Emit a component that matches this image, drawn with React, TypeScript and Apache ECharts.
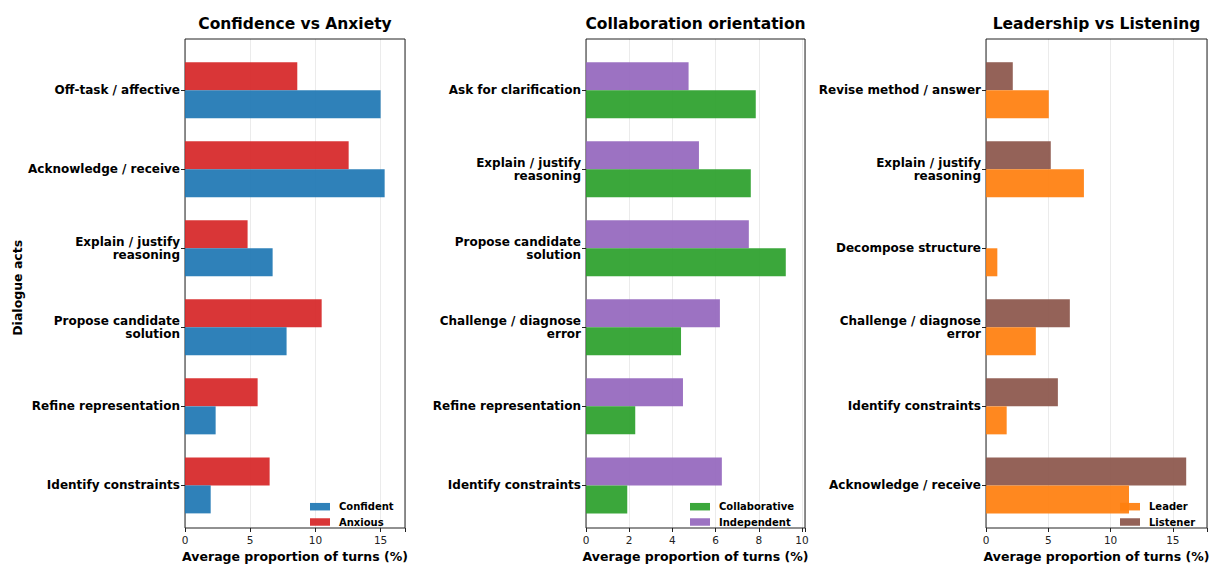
import React, { useEffect, useRef } from "react";
import * as echarts from "echarts";

const titles = ["Confidence vs Anxiety", "Collaboration orientation", "Leadership vs Listening"];

const categories1 = [
  "Off-task / affective",
  "Acknowledge / receive",
  "Explain / justify\nreasoning",
  "Propose candidate\nsolution",
  "Refine representation",
  "Identify constraints",
];
const confident = [15.0, 15.31, 6.72, 7.79, 2.35, 1.97];
const anxious = [8.61, 12.55, 4.8, 10.48, 5.57, 6.49];

const categories2 = [
  "Ask for clarification",
  "Explain / justify\nreasoning",
  "Propose candidate\nsolution",
  "Challenge / diagnose\nerror",
  "Refine representation",
  "Identify constraints",
];
const collaborative = [7.86, 7.63, 9.25, 4.4, 2.28, 1.91];
const independent = [4.75, 5.23, 7.54, 6.2, 4.49, 6.29];

const categories3 = [
  "Revise method / answer",
  "Explain / justify\nreasoning",
  "Decompose structure",
  "Challenge / diagnose\nerror",
  "Identify constraints",
  "Acknowledge / receive",
];
const leader = [5.04, 7.86, 0.91, 4.0, 1.66, 11.48];
const listener = [2.15, 5.2, 0, 6.73, 5.77, 16.07];

const xMax = [16.87, 10.14, 17.74];
const xInterval = [5, 2, 5];
const xAxisTitle = "Average proportion of turns (%)";
const yAxisTitle = "Dialogue acts";

const FONT = "DejaVu Sans";
const W = 1213;
const H = 568;

export default function App() {
  const ref = useRef<HTMLDivElement>(null);
  useEffect(() => {
    if (!ref.current) return;
    const chart = echarts.init(ref.current, null, { renderer: "svg" });

    const panels = [
      { cats: categories1, s: [
        { name: "Confident", data: confident, color: "#1f77b4" },
        { name: "Anxious", data: anxious, color: "#d62728" },
      ] },
      { cats: categories2, s: [
        { name: "Collaborative", data: collaborative, color: "#2ca02c" },
        { name: "Independent", data: independent, color: "#9467bd" },
      ] },
      { cats: categories3, s: [
        { name: "Leader", data: leader, color: "#ff7f0e" },
        { name: "Listener", data: listener, color: "#8c564b" },
      ] },
    ];

    const lefts = [185, 586, 986];
    const rights = [405, 805, 1207];
    const frameTop = 39;
    const frameBottom = 537;
    const barsTop = 50.7;
    const barsBottom = 524.9;
    const legendLeft = [310, 690, 1120];

    const grid: any[] = [];
    const xAxis: any[] = [];
    const yAxis: any[] = [];
    const series: any[] = [];
    const title: any[] = [];
    const legend: any[] = [];

    panels.forEach((p, i) => {
      const L = lefts[i];
      const R = W - rights[i];
      grid.push({
        left: L, right: R, top: frameTop, bottom: H - frameBottom,
        show: true, borderColor: "#222", borderWidth: 1, backgroundColor: "transparent",
        containLabel: false,
      });
      grid.push({
        left: L, right: R, top: barsTop, bottom: H - barsBottom,
        containLabel: false,
      });
      const iv = xInterval[i];
      xAxis.push({
        type: "value", gridIndex: 2 * i, min: 0, max: xMax[i], interval: iv,
        axisLine: { show: false },
        axisTick: { show: true, length: 4, lineStyle: { color: "#222" } },
        axisLabel: {
          fontFamily: FONT, fontSize: 10.5, color: "#222", margin: 6,
          formatter: (v: number) => (Math.abs(v / iv - Math.round(v / iv)) < 1e-6 ? String(v) : ""),
        },
        splitLine: { show: true, lineStyle: { color: "rgba(0,0,0,0.08)", width: 1 } },
        name: xAxisTitle, nameLocation: "middle", nameGap: 22,
        nameTextStyle: { fontFamily: FONT, fontSize: 12.5, fontWeight: "bold", color: "#000" },
      });
      xAxis.push({
        type: "value", gridIndex: 2 * i + 1, min: 0, max: xMax[i], show: false,
      });
      yAxis.push({ type: "value", gridIndex: 2 * i, show: false });
      yAxis.push({
        type: "category", gridIndex: 2 * i + 1, data: p.cats, inverse: true,
        axisLine: { show: false },
        axisTick: { show: true, length: 4, alignWithLabel: true, lineStyle: { color: "#222" } },
        axisLabel: {
          fontFamily: FONT, fontSize: 12, fontWeight: "bold", color: "#000",
          margin: 5, lineHeight: 13.5, align: "right", padding: [3, 0, 0, 0],
        },
        ...(i === 0
          ? {
              name: yAxisTitle, nameLocation: "middle", nameGap: 159, nameRotate: 90,
              nameTextStyle: { fontFamily: FONT, fontSize: 12.5, fontWeight: "bold", color: "#000" },
            }
          : {}),
      });
      [p.s[1], p.s[0]].forEach((s) => {
        series.push({
          type: "bar", name: s.name, data: s.data,
          xAxisIndex: 2 * i + 1, yAxisIndex: 2 * i + 1,
          barWidth: 28, barGap: "0%",
          itemStyle: { color: s.color, opacity: 0.93 },
        });
      });
      title.push({
        text: titles[i], left: (lefts[i] + rights[i]) / 2, top: 16, textAlign: "center", padding: 0,
        textStyle: { fontFamily: FONT, fontSize: 15.5, fontWeight: "bold", color: "#000" },
      });
      legend.push({
        data: [p.s[0].name, p.s[1].name], orient: "vertical",
        left: legendLeft[i], top: 500.7, padding: 0, itemGap: 3.3,
        itemWidth: 20, itemHeight: 7.5, icon: "rect",
        textStyle: { fontFamily: FONT, fontSize: 10, fontWeight: "bold", color: "#000", lineHeight: 12, padding: [0, 0, 0, 4] },
      });
    });

    chart.setOption({
      animation: false,
      backgroundColor: "#fff",
      title, legend, grid, xAxis, yAxis, series,
    });
    return () => chart.dispose();
  }, []);
  return <div ref={ref} style={{ position: "fixed", left: 0, top: 0, width: W, height: H }} />;
}
